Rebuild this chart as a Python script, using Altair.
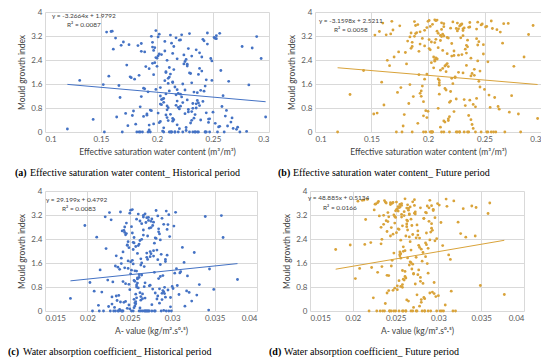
import altair as alt
import pandas as pd

# Effective saturation water content (m3/m3) per sample
sat = [
    0.120, 0.131, 0.143, 0.297, 0.293, 0.289, 0.285, 0.280, 0.215, 0.236, 0.248, 0.262, 0.205, 0.225, 0.251,
    0.212, 0.198, 0.234, 0.176, 0.207, 0.255, 0.221, 0.189, 0.243, 0.203, 0.229, 0.166, 0.214, 0.238, 0.195,
    0.208, 0.226, 0.183, 0.247, 0.211, 0.159, 0.232, 0.201, 0.219, 0.264, 0.193, 0.241, 0.206, 0.172, 0.227,
    0.216, 0.188, 0.235, 0.202, 0.253, 0.223, 0.197, 0.244, 0.209, 0.178, 0.231, 0.213, 0.268, 0.186, 0.220,
    0.204, 0.239, 0.163, 0.218, 0.192, 0.257, 0.228, 0.210, 0.245, 0.181, 0.233, 0.200, 0.274, 0.217, 0.196,
    0.209, 0.152, 0.237, 0.224, 0.185, 0.242, 0.206, 0.259, 0.214, 0.191, 0.230, 0.169, 0.222, 0.203, 0.249,
    0.211, 0.194, 0.236, 0.175, 0.218, 0.263, 0.201, 0.227, 0.188, 0.240, 0.213, 0.157, 0.232, 0.207, 0.252,
    0.219, 0.199, 0.244, 0.184, 0.225, 0.210, 0.271, 0.196, 0.235, 0.167, 0.215, 0.246, 0.202, 0.229, 0.180,
    0.208, 0.238, 0.192, 0.256, 0.221, 0.204, 0.243, 0.173, 0.216, 0.231, 0.198, 0.266, 0.212, 0.187, 0.226,
    0.205, 0.247, 0.161, 0.233, 0.214, 0.195, 0.258, 0.220, 0.208, 0.239, 0.182, 0.224, 0.201, 0.253, 0.217,
    0.210, 0.190, 0.234, 0.177, 0.228, 0.245, 0.203, 0.218, 0.155, 0.237, 0.211, 0.196, 0.261, 0.223, 0.186,
    0.213, 0.241, 0.199, 0.230, 0.170, 0.207, 0.250, 0.219, 0.193, 0.236, 0.209, 0.276, 0.226, 0.184, 0.215,
    0.202, 0.232, 0.189, 0.254, 0.212, 0.164, 0.240, 0.222, 0.197, 0.228, 0.206, 0.243, 0.179, 0.217, 0.235,
    0.211, 0.193, 0.249, 0.225, 0.208, 0.260, 0.186, 0.231, 0.214, 0.200, 0.238, 0.153, 0.220, 0.204, 0.267,
    0.216, 0.197, 0.242, 0.174, 0.229, 0.210, 0.256, 0.191, 0.234, 0.218, 0.203, 0.246, 0.168, 0.223, 0.282,
    0.209, 0.237, 0.185, 0.252, 0.214, 0.199, 0.231, 0.272, 0.206, 0.227, 0.194, 0.244, 0.212, 0.160, 0.221,
]

# A-value (kg/m2.s^0.5) per sample
aval = [
    0.0262, 0.0271, 0.0180, 0.0283, 0.0255, 0.0358, 0.0244, 0.0290, 0.0197, 0.0377, 0.0360, 0.0349, 0.0343, 0.0344, 0.0339,
    0.0265, 0.0248, 0.0291, 0.0234, 0.0272, 0.0256, 0.0303, 0.0241, 0.0279, 0.0259, 0.0226, 0.0286, 0.0263, 0.0312, 0.0250,
    0.0274, 0.0238, 0.0295, 0.0258, 0.0215, 0.0281, 0.0267, 0.0245, 0.0300, 0.0253, 0.0229, 0.0288, 0.0261, 0.0320, 0.0247,
    0.0269, 0.0236, 0.0284, 0.0257, 0.0296, 0.0242, 0.0275, 0.0206, 0.0264, 0.0308, 0.0251, 0.0278, 0.0232, 0.0289, 0.0260,
    0.0246, 0.0282, 0.0266, 0.0224, 0.0293, 0.0254, 0.0317, 0.0270, 0.0239, 0.0285, 0.0258, 0.0211, 0.0276, 0.0249, 0.0302,
    0.0263, 0.0240, 0.0287, 0.0255, 0.0273, 0.0228, 0.0298, 0.0261, 0.0244, 0.0280, 0.0326, 0.0252, 0.0268, 0.0235, 0.0292,
    0.0257, 0.0277, 0.0219, 0.0264, 0.0305, 0.0249, 0.0283, 0.0259, 0.0237, 0.0271, 0.0254, 0.0294, 0.0203, 0.0266, 0.0243,
    0.0279, 0.0253, 0.0290, 0.0231, 0.0262, 0.0314, 0.0247, 0.0275, 0.0258, 0.0286, 0.0222, 0.0268, 0.0250, 0.0299, 0.0240,
    0.0265, 0.0284, 0.0256, 0.0213, 0.0276, 0.0245, 0.0296, 0.0261, 0.0233, 0.0289, 0.0252, 0.0323, 0.0270, 0.0242, 0.0281,
    0.0259, 0.0227, 0.0273, 0.0292, 0.0248, 0.0266, 0.0306, 0.0255, 0.0278, 0.0238, 0.0263, 0.0285, 0.0217, 0.0270, 0.0251,
    0.0288, 0.0260, 0.0236, 0.0274, 0.0301, 0.0246, 0.0267, 0.0257, 0.0293, 0.0230, 0.0280, 0.0254, 0.0329, 0.0264, 0.0243,
    0.0272, 0.0255, 0.0297, 0.0239, 0.0262, 0.0283, 0.0208, 0.0268, 0.0249, 0.0310, 0.0258, 0.0277, 0.0225, 0.0287, 0.0265,
    0.0253, 0.0291, 0.0244, 0.0271, 0.0260, 0.0234, 0.0282, 0.0318, 0.0256, 0.0275, 0.0241, 0.0263, 0.0295, 0.0221, 0.0268,
    0.0278, 0.0250, 0.0286, 0.0262, 0.0309, 0.0237, 0.0269, 0.0255, 0.0292, 0.0247, 0.0332, 0.0273, 0.0258, 0.0284, 0.0229,
    0.0261, 0.0294, 0.0252, 0.0276, 0.0242, 0.0267, 0.0304, 0.0257, 0.0214, 0.0280, 0.0264, 0.0245, 0.0290, 0.0270, 0.0254,
    0.0285, 0.0259, 0.0233, 0.0272, 0.0298, 0.0248, 0.0266, 0.0315, 0.0256, 0.0279, 0.0240, 0.0263, 0.0288, 0.0251, 0.0274,
]

# Mould growth index, historical period
mgi_hist = [
    0.10, 1.72, 0.42, 0.50, 2.45, 3.18, 2.80, 0.02, 2.85, 1.05, 2.45, 0.72, 0.03, 1.40, 3.15,
    0.00, 2.31, 0.58, 1.84, 3.02, 0.17, 1.26, 2.67, 0.00, 0.93, 3.28, 1.55, 0.36, 2.12, 0.71,
    1.98, 0.05, 2.88, 0.44, 1.37, 3.35, 0.00, 2.54, 0.82, 1.69, 0.23, 3.09, 1.12, 0.62, 2.20,
    0.00, 1.46, 2.74, 0.31, 3.21, 0.98, 1.91, 0.00, 2.39, 0.55, 1.64, 2.96, 0.12, 1.18, 0.77,
    2.58, 0.40, 3.13, 1.03, 0.00, 2.05, 0.67, 1.79, 3.30, 0.26, 1.33, 2.46, 0.00, 0.89, 2.83,
    0.48, 1.58, 0.00, 2.27, 0.84, 3.04, 0.14, 1.21, 2.62, 0.60, 1.95, 0.00, 3.24, 0.35, 1.72,
    2.15, 0.73, 0.00, 2.91, 1.41, 0.20, 3.17, 1.07, 0.52, 2.50, 0.00, 1.86, 0.95, 2.70, 0.29,
    1.29, 3.38, 0.64, 0.00, 2.35, 1.62, 0.09, 2.99, 0.80, 1.15, 2.08, 0.43, 3.26, 0.00, 1.76,
    0.57, 2.64, 1.34, 0.19, 3.07, 0.91, 0.00, 2.23, 1.50, 0.68, 2.81, 0.33, 1.93, 0.00, 2.42,
    1.10, 0.00, 2.76, 0.46, 1.67, 3.19, 0.85, 0.11, 2.01, 1.39, 0.00, 2.57, 0.63, 3.11, 1.24,
    0.38, 2.18, 0.00, 1.81, 0.75, 2.93, 1.48, 0.24, 3.33, 0.97, 0.00, 2.29, 0.53, 1.60, 2.69,
    0.00, 1.02, 2.48, 0.30, 3.00, 1.71, 0.66, 0.00, 2.11, 1.31, 0.87, 2.85, 0.15, 1.89, 0.41,
    2.60, 0.79, 1.44, 0.00, 3.23, 0.50, 2.03, 1.17, 0.27, 2.78, 0.00, 1.53, 0.70, 3.14, 0.94,
    1.83, 0.07, 2.37, 0.61, 1.27, 0.00, 2.95, 0.39, 1.65, 2.19, 0.88, 0.00, 3.06, 1.08, 0.47,
    0.00, 2.72, 1.36, 0.21, 1.97, 0.81, 3.29, 0.56, 0.00, 2.44, 1.20, 0.32, 2.89, 0.00, 1.57,
    0.74, 1.92, 0.00, 3.12, 0.45, 1.42, 2.53, 0.16, 0.99, 2.26, 0.00, 1.74, 0.59, 3.36, 0.86,
]

# Mould growth index, future period
mgi_fut = [
    0.00, 1.25, 2.05, 0.45, 3.55, 3.25, 2.50, 0.60, 2.20, 0.55, 3.60, 0.85, 2.50, 3.45, 3.50,
    3.42, 0.00, 2.63, 1.48, 3.71, 0.82, 2.95, 3.28, 1.12, 0.00, 3.56, 2.21, 0.37, 1.87, 3.12,
    2.44, 3.63, 0.95, 0.00, 3.05, 1.66, 3.47, 2.78, 0.51, 3.33, 1.29, 2.09, 3.74, 0.00, 2.56,
    1.40, 3.19, 0.00, 3.52, 2.34, 0.68, 2.87, 3.66, 1.77, 0.20, 3.38, 2.12, 0.00, 2.99, 1.03,
    3.59, 1.95, 3.24, 0.44, 2.69, 3.45, 0.00, 1.56, 3.01, 2.27, 0.88, 3.69, 1.21, 3.15, 0.00,
    2.81, 0.60, 3.50, 1.84, 3.30, 0.00, 2.41, 1.15, 3.61, 0.29, 2.58, 3.40, 1.61, 0.00, 2.91,
    3.22, 1.37, 0.00, 3.54, 2.18, 0.76, 3.08, 1.99, 3.68, 0.12, 2.72, 3.35, 1.08, 2.47, 0.00,
    0.99, 3.48, 2.37, 3.17, 0.00, 1.72, 3.62, 0.54, 2.84, 3.27, 1.45, 2.03, 0.00, 3.58, 2.65,
    3.36, 0.41, 1.91, 3.70, 2.53, 0.00, 3.11, 1.32, 2.24, 3.44, 0.71, 2.96, 3.64, 1.18, 0.00,
    2.14, 3.57, 0.90, 2.76, 3.20, 1.53, 0.00, 3.46, 2.43, 0.25, 3.03, 1.81, 3.72, 0.00, 2.61,
    1.26, 3.31, 2.89, 0.00, 3.53, 1.69, 2.31, 3.13, 0.63, 3.65, 2.06, 1.01, 3.41, 2.70, 0.00,
    3.26, 1.89, 0.48, 3.60, 2.50, 3.09, 1.42, 0.00, 2.93, 3.49, 0.79, 2.19, 3.37, 1.58, 0.33,
    2.74, 0.00, 3.55, 1.23, 3.18, 2.39, 0.92, 3.67, 1.76, 0.00, 2.98, 3.43, 0.58, 2.28, 3.06,
    0.16, 3.34, 2.60, 1.10, 3.73, 0.00, 2.85, 1.97, 3.51, 0.69, 2.46, 3.23, 1.35, 0.00, 3.61,
    2.01, 3.39, 0.84, 2.67, 3.14, 1.64, 0.00, 3.58, 2.22, 0.38, 3.00, 1.50, 3.69, 2.55, 0.00,
    3.29, 1.06, 2.79, 3.52, 0.00, 1.93, 3.21, 0.66, 2.36, 3.44, 1.19, 2.90, 0.00, 3.63, 1.79,
]

y_ticks = [0, 0.8, 1.6, 2.4, 3.2, 4]
sat_ticks = [0.1, 0.15, 0.2, 0.25, 0.3]
aval_ticks = [0.015, 0.02, 0.025, 0.03, 0.035, 0.04]

# trend-line equations as printed on the chart
fits = {
    "a": (-3.2664, 1.9792, "y = -3.2664x + 1.9792", "R\u00b2 = 0.0087"),
    "b": (-3.1598, 2.5211, "y = -3.1598x + 2.5211", "R\u00b2 = 0.0058"),
    "c": (29.199, 0.4792, "y = 29.199x + 0.4792", "R\u00b2 = 0.0083"),
    "d": (48.885, 0.5134, "y = 48.885x + 0.5134", "R\u00b2 = 0.0166"),
}

captions = {
    "a": "Effective saturation water content_ Historical period",
    "b": "Effective saturation water content_ Future period",
    "c": "Water absorption coefficient_ Historical period",
    "d": "Water absorption coefficient_ Future period",
}

BLUE = "#4472C4"
GOLD = "#D9A33A"
H = 120
SANS = "Lato"
SERIF = "Liberation Serif"


def panel(key, xs, ys, color, xdom, xticks, xtitle, w, eq_pos, r2_pos, cap_dx):
    slope, intercept, eq, r2 = fits[key]
    df = pd.DataFrame({"x": xs, "y": ys})
    x0, x1 = min(xs), max(xs)
    ldf = pd.DataFrame({"x": [x0, x1], "y": [slope * x0 + intercept, slope * x1 + intercept]})
    xenc = alt.X("x:Q", scale=alt.Scale(domain=xdom, nice=False, zero=False),
                 axis=alt.Axis(values=xticks, format="~g", title=xtitle, titleFontWeight="normal"))
    yenc = alt.Y("y:Q", scale=alt.Scale(domain=[0, 4], nice=False),
                 axis=alt.Axis(values=y_ticks, format="~g", title="Mould growth index", titleFontWeight="normal"))
    pts = alt.Chart(df).mark_circle(size=8, opacity=1, color=color).encode(x=xenc, y=yenc)
    line = alt.Chart(ldf).mark_line(color=color, strokeWidth=1).encode(x=xenc, y=yenc)
    tdf = pd.DataFrame({"eq": [eq], "r2": [r2], "lab": ["(" + key + ")"], "cap": [captions[key]]})
    base = alt.Chart(tdf)
    t_eq = base.mark_text(align="left", baseline="middle", font=SANS, fontSize=6.5, color="#404040").encode(
        x=alt.value(eq_pos[0]), y=alt.value(eq_pos[1]), text="eq:N")
    t_r2 = base.mark_text(align="left", baseline="middle", font=SANS, fontSize=6.5, color="#404040").encode(
        x=alt.value(r2_pos[0]), y=alt.value(r2_pos[1]), text="r2:N")
    c_lab = base.mark_text(align="left", baseline="middle", font=SERIF, fontSize=10, fontWeight="bold",
                           color="#000000").encode(x=alt.value(cap_dx), y=alt.value(H + 41), text="lab:N")
    c_txt = base.mark_text(align="left", baseline="middle", font=SERIF, fontSize=10,
                           color="#000000").encode(x=alt.value(cap_dx + 15), y=alt.value(H + 41), text="cap:N")
    return alt.layer(pts, line, t_eq, t_r2, c_lab, c_txt).properties(width=w, height=H)


pa = panel("a", sat, mgi_hist, BLUE, [0.1, 0.3], sat_ticks,
           "Effective saturation water content (m\u00b3/m\u00b3)", 224, (7, 4), (22, 13), -30)
pb = panel("b", sat, mgi_fut, GOLD, [0.1, 0.3], sat_ticks,
           "Effective saturation water content (m\u00b3/m\u00b3)", 226, (4, 9), (19, 18), -37)
pc = panel("c", aval, mgi_hist, BLUE, [0.015, 0.04], aval_ticks,
           "A- value (kg/m\u00b2.s\u2070\u00b7\u2075)", 212, (1, 9), (17, 18), -37)
pd_ = panel("d", aval, mgi_fut, GOLD, [0.015, 0.04], aval_ticks,
            "A- value (kg/m\u00b2.s\u2070\u00b7\u2075)", 214, (-2, 7), (13, 17), -41)

row1 = alt.hconcat(pa, pb, spacing=9)
row2 = alt.hconcat(pc, pd_, spacing=12)

chart = alt.vconcat(row1, row2, spacing=9).properties(
    padding={"left": 0, "top": 0, "right": 0, "bottom": 0},
    background="white",
).configure_view(stroke=None).configure_axis(
    labelFont=SANS, labelFontSize=8, labelColor="#595959", labelPadding=3,
    titleFont=SANS, titleFontSize=8.5, titleFontWeight="normal", titleColor="#404040", titlePadding=4,
    grid=True, gridColor="#D9D9D9", gridWidth=1, domain=False, ticks=False,
)

chart.save("out.html", embed_options={"renderer": "svg", "actions": False})
